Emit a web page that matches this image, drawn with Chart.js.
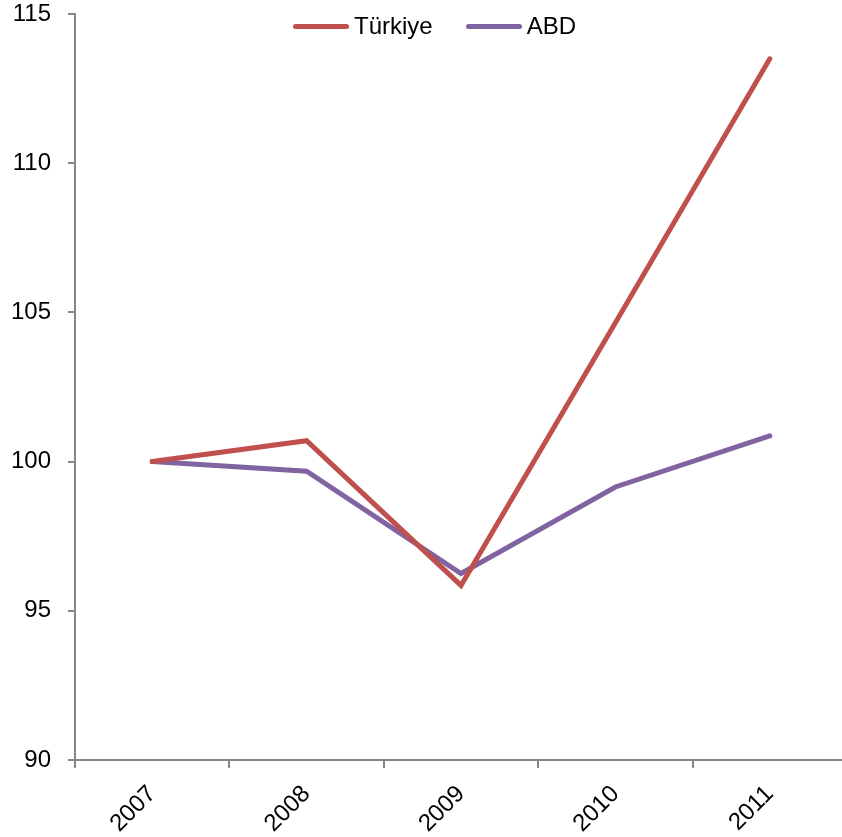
<!DOCTYPE html>
<html>
<head>
<meta charset="utf-8">
<script src="https://cdn.jsdelivr.net/npm/chart.js@4.4.0/dist/chart.umd.min.js"></script>
<style>
  html, body { margin: 0; padding: 0; background: #fff; }
  #wrap { position: relative; width: 842px; height: 837px; }
  #legend { position: absolute; top: 12px; left: 293px; display: flex; align-items: center;
            font-family: 'Liberation Sans', Arial, sans-serif; font-size: 24px; color: #000; }
  #legend .item { display: flex; align-items: center; margin-right: 33px; }
  #legend .swatch { width: 56px; height: 5px; border-radius: 3px; margin-right: 5px; }
</style>
</head>
<body>
<div id="wrap">
  <canvas id="chart" width="842" height="837"></canvas>
  <div id="legend"></div>
</div>
<script>
// Data (index, 2007 = 100)
const years = ['2007', '2008', '2009', '2010', '2011'];
const turkiye = [100, 100.7, 95.85, 104.65, 113.5];
const abd = [100, 99.68, 96.25, 99.15, 100.86];
const yTicks = [90, 95, 100, 105, 110, 115];

const RED = '#c0504d';
const PURPLE = '#8064a2';
const AXIS = '#868686';
const FONT = "'Liberation Sans', Arial, sans-serif";
const PLOT_TOP = 14;

// Nudge the plot box: x axis runs a little past the right edge, y axis starts higher
const fitPlot = {
  id: 'fitPlot',
  afterLayout(chart) {
    const x = chart.scales.x;
    x.right += 5;
    x.width += 5;
    x.configure();

    const y = chart.scales.y;
    y.top = PLOT_TOP;
    y.height = y.bottom - PLOT_TOP;
    y.configure();
    chart.chartArea.top = PLOT_TOP;
    chart.chartArea.height = chart.chartArea.bottom - PLOT_TOP;
  }
};

const ctx = document.getElementById('chart').getContext('2d');
const chart = new Chart(ctx, {
  type: 'line',
  data: {
    labels: years,
    datasets: [
      { label: 'Türkiye', data: turkiye, borderColor: RED, backgroundColor: RED,
        borderWidth: 5, pointRadius: 0, tension: 0, borderCapStyle: 'round' },
      { label: 'ABD', data: abd, borderColor: PURPLE, backgroundColor: PURPLE,
        borderWidth: 5, pointRadius: 0, tension: 0, borderCapStyle: 'round' }
    ]
  },
  plugins: [fitPlot],
  options: {
    responsive: false,
    animation: false,
    plugins: {
      tooltip: { enabled: false },
      legend: { display: false }
    },
    scales: {
      x: {
        offset: true,
        afterFit(scale) { scale.height = 77; },
        grid: { offset: true, drawOnChartArea: false, drawTicks: true, tickLength: 8, color: AXIS, lineWidth: 2 },
        border: { color: AXIS, width: 2 },
        ticks: { color: '#000', font: { family: FONT, size: 24 }, minRotation: 45, maxRotation: 45, padding: 12 }
      },
      y: {
        min: 90,
        max: 115,
        afterFit(scale) { scale.width = 75; },
        afterBuildTicks(scale) { scale.ticks = yTicks.map(v => ({ value: v })); },
        grid: { drawOnChartArea: false, drawTicks: true, tickLength: 7, color: AXIS, lineWidth: 2 },
        border: { color: AXIS, width: 2 },
        ticks: { color: '#000', font: { family: FONT, size: 24 }, padding: 17 }
      }
    }
  }
});

// legend as html, sitting inside the plot near the top
const legend = document.getElementById('legend');
chart.data.datasets.forEach(ds => {
  const item = document.createElement('div');
  item.className = 'item';
  item.innerHTML = `<span class="swatch" style="background:${ds.borderColor}"></span><span>${ds.label}</span>`;
  legend.appendChild(item);
});
</script>
</body>
</html>
